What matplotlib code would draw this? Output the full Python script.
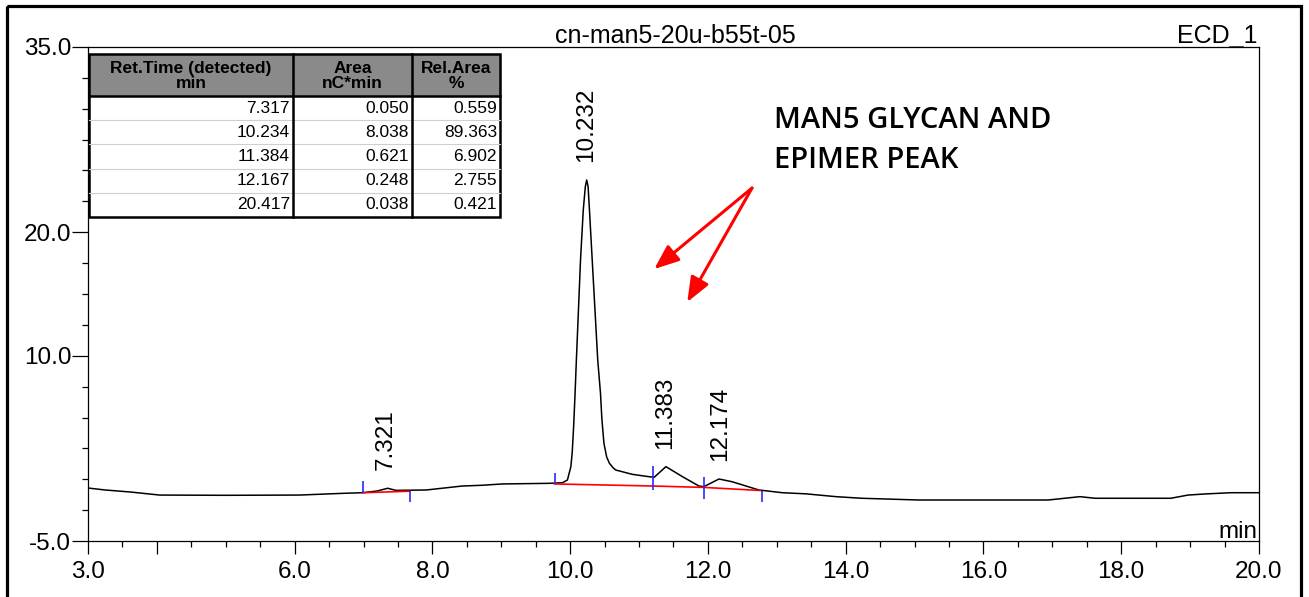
import numpy as np
import matplotlib
matplotlib.use("Agg")
import matplotlib.pyplot as plt
from matplotlib.patches import Rectangle
from matplotlib.lines import Line2D
import matplotlib.transforms as mtransforms

# ---- data ----
time_min = [3.00, 3.25, 3.61, 4.04, 5.00, 6.07, 6.70, 6.99, 7.20, 7.35, 7.47, 7.91,
            8.43, 8.71, 9.02, 9.70, 9.89, 9.96, 10.01, 10.03, 10.05, 10.07, 10.09,
            10.12, 10.15, 10.19, 10.22, 10.24, 10.26, 10.28, 10.32, 10.36, 10.40,
            10.44, 10.46, 10.49, 10.53, 10.57, 10.62, 10.66, 10.90, 11.14, 11.22,
            11.39, 11.63, 11.87, 11.94, 12.16, 12.35, 12.74, 13.08, 13.42, 13.86,
            14.23, 15.06, 16.94, 17.40, 17.62, 18.72, 18.97, 19.22, 19.59, 19.96, 20.00]
signal = [-0.71, -0.87, -1.03, -1.28, -1.30, -1.28, -1.14, -1.09, -0.95, -0.73, -0.90, -0.87,
          -0.55, -0.49, -0.38, -0.33, -0.28, -0.06, 1.02, 2.2, 4.26, 6.8, 9.66,
          13.7, 17.75, 21.8, 23.7, 24.23, 23.7, 21.8, 17.75, 13.7, 9.66,
          6.96, 4.9, 2.91, 1.8, 1.29, 0.95, 0.75, 0.40, 0.21, 0.16,
          1.02, 0.21, -0.55, -0.60, 0.02, -0.20, -0.87, -1.09, -1.18, -1.41,
          -1.54, -1.68, -1.68, -1.41, -1.54, -1.54, -1.28, -1.19, -1.09, -1.09, -1.09]

# integration baselines (red)
base1_t = [6.99, 7.67]
base1_v = [-1.09, -0.97]
base2_t = [9.77, 11.22, 11.94, 12.76]
base2_v = [-0.38, -0.55, -0.66, -0.91]

# peak delimiters (blue): time, low, high
delim_t = [6.99, 7.67, 9.78, 11.20, 11.95, 12.78]
delim_lo = [-1.09, -1.82, -0.38, -0.87, -1.62, -1.82]
delim_hi = [-0.14, -0.95, 0.48, 1.07, 0.21, -0.93]

peak_times = [7.321, 10.232, 11.383, 12.174]
peak_heights = [-0.73, 24.23, 1.02, 0.02]

# results table
col_headers = ["Ret.Time (detected)\nmin", "Area\nnC*min", "Rel.Area\n%"]
ret_times = [7.317, 10.234, 11.384, 12.167, 20.417]
areas = [0.050, 8.038, 0.621, 0.248, 0.038]
rel_areas = [0.559, 89.363, 6.902, 2.755, 0.421]

x_major = [3, 4, 6, 8, 10, 12, 14, 16, 18, 20]
x_labels = ["3.0", "", "6.0", "8.0", "10.0", "12.0", "14.0", "16.0", "18.0", "20.0"]
y_major = [-5, 10, 20, 35]
y_labels = ["-5.0", "10.0", "20.0", "35.0"]

arrow_start = (12.64, 23.58)
arrow_ends = [(11.22, 17.02), (11.70, 14.35)]

plt.rcParams["font.family"] = ["Liberation Sans", "DejaVu Sans"]

W, H = 1309, 597
fig = plt.figure(figsize=(W / 100, H / 100), dpi=100)
# pixel coordinates from the top-left corner
px = mtransforms.Affine2D().scale(1 / W, -1 / H).translate(0, 1) + fig.transFigure

ax = fig.add_axes([88 / W, 1 - 541 / H, (1259 - 88) / W, (541 - 47) / H])
ax.set_xlim(3, 20)
ax.set_ylim(-5, 35)

ax.plot(time_min, signal, color="black", lw=1.1)
ax.plot(base1_t, base1_v, color="red", lw=1.2)
ax.plot(base2_t, base2_v, color="red", lw=1.2)
ax.vlines(delim_t, delim_lo, delim_hi, color="#2a2aff", lw=1.2)

for t, h in zip(peak_times, peak_heights):
    ax.annotate(f"{t:.3f}", xy=(t, h), xytext=(0, 13), textcoords="offset points",
                rotation=90, ha="center", va="bottom", fontsize=17.5)

# ticks
ax.set_xticks(x_major)
ax.set_xticklabels(x_labels)
ax.set_xticks(np.arange(3, 20.01, 0.5), minor=True)
ax.set_yticks(y_major)
ax.set_yticklabels(y_labels)
ax.set_yticks(np.arange(-5, 35.01, 2.5), minor=True)
ax.tick_params(axis="x", which="major", length=9.5, width=0.9, pad=5, labelsize=17.5)
ax.tick_params(axis="x", which="minor", length=4, width=0.9)
ax.tick_params(axis="y", which="major", length=11.5, width=0.9, pad=0.5, labelsize=17.5)
ax.tick_params(axis="y", which="minor", length=4.5, width=0.9)
for s in ax.spines.values():
    s.set_linewidth(0.9)

ax.annotate("min", xy=(1, 0), xycoords="axes fraction", xytext=(-1, 2.5),
            textcoords="offset points", ha="right", va="baseline", fontsize=17.5)
ax.annotate("cn-man5-20u-b55t-05", xy=(0.502, 1), xycoords="axes fraction",
            xytext=(0, 3), textcoords="offset points", ha="center", va="baseline",
            fontsize=18)
ax.annotate("ECD_1", xy=(1, 1), xycoords="axes fraction", xytext=(-1, 3),
            textcoords="offset points", ha="right", va="baseline", fontsize=18)

# annotation
for end in arrow_ends:
    ax.annotate("", xy=end, xytext=arrow_start,
                arrowprops=dict(arrowstyle="-|>,head_length=0.75,head_width=0.3",
                                color="red", lw=2.2, mutation_scale=20,
                                shrinkA=0, shrinkB=0))
ax.text(12.96, 28.44, "MAN5 GLYCAN AND", family=["Open Sans", "DejaVu Sans"],
        fontsize=21, fontweight="semibold", va="baseline", ha="left")
ax.text(12.96, 25.2, "EPIMER PEAK", family=["Open Sans", "DejaVu Sans"],
        fontsize=21, fontweight="semibold", va="baseline", ha="left")

# results table drawn in pixel space
col_x = [89, 293, 412, 500]
top, head_bot, row_h = 54, 96, 24.2
n = len(ret_times)
bottom = head_bot + n * row_h
fig.add_artist(Rectangle((col_x[0], top), col_x[-1] - col_x[0], head_bot - top,
                         transform=px, facecolor="#8a8a8a", edgecolor="none"))
fig.add_artist(Rectangle((col_x[0], head_bot), col_x[-1] - col_x[0], bottom - head_bot,
                         transform=px, facecolor="white", edgecolor="none"))
for i in range(1, n):
    y = head_bot + i * row_h
    fig.add_artist(Line2D([col_x[0], col_x[-1]], [y, y], transform=px,
                          color="#cfcfcf", lw=0.8))
for x in col_x[1:-1]:
    fig.add_artist(Line2D([x, x], [top, bottom], transform=px, color="black", lw=1.8))
fig.add_artist(Line2D([col_x[0], col_x[-1]], [head_bot, head_bot], transform=px,
                      color="black", lw=1.8))
fig.add_artist(Rectangle((col_x[0], top), col_x[-1] - col_x[0], bottom - top,
                         transform=px, facecolor="none", edgecolor="black", lw=1.8))
for j, hdr in enumerate(col_headers):
    fig.text((col_x[j] + col_x[j + 1]) / 2, (top + head_bot) / 2 + 1, hdr, transform=px,
             ha="center", va="center", fontsize=12.5, fontweight="bold", linespacing=1.05)
for i in range(n):
    yc = head_bot + (i + 0.5) * row_h
    for j, val in enumerate([ret_times[i], areas[i], rel_areas[i]]):
        fig.text(col_x[j + 1] - 3, yc, f"{val:.3f}", transform=px,
                 ha="right", va="center", fontsize=12.5)

# outer frame of the screenshot
fig.add_artist(Rectangle((6.5, 5.5), 1301 - 6.5, 700, transform=px,
                         facecolor="none", edgecolor="black", lw=2.3))

fig.savefig("out.png", dpi=100)
